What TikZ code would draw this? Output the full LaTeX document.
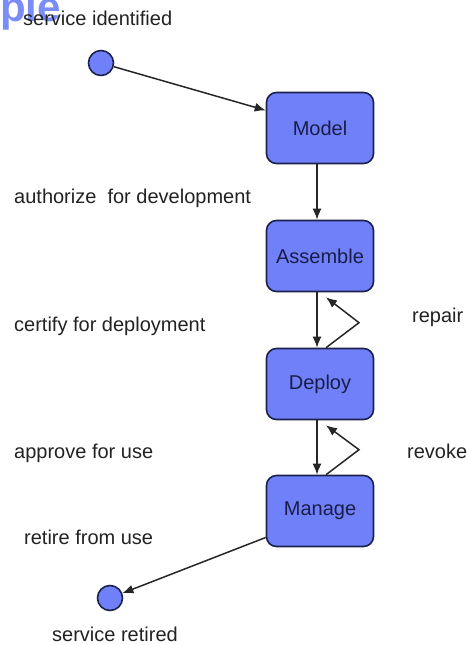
\documentclass[tikz,border=0pt]{standalone}
\usepackage{fontspec}
\setmainfont{Liberation Sans}
\usetikzlibrary{arrows.meta}
\definecolor{stfill}{RGB}{112,128,248}
\definecolor{stline}{RGB}{28,34,78}
\definecolor{stlabel}{RGB}{24,30,72}
\definecolor{txt}{RGB}{34,34,34}
\definecolor{ttl}{RGB}{122,140,248}
\tikzset{
  state/.style={draw=stline, line width=1.6pt, fill=stfill, rounded corners=10pt,
    minimum width=107pt, minimum height=71pt, inner sep=0pt, text=stlabel,
    font=\fontsize{20}{24}\selectfont},
  endpoint/.style={circle, draw=stline, line width=1.6pt, fill=stfill,
    minimum size=25pt, inner sep=0pt},
  lbl/.style={anchor=base west, inner sep=0pt, text=txt,
    font=\fontsize{20}{24}\selectfont},
  flow/.style={draw=black!85, line width=1.5pt,
    -{Latex[length=11pt,width=9pt]}}
}
\begin{document}
\begin{tikzpicture}[x=1pt,y=-1pt]
  \path[use as bounding box] (0,0) rectangle (468,645);
  \clip (0,0) rectangle (468,645);

  % heading fragment at the top edge
  \node[anchor=base west, inner sep=0pt, text=ttl,
        font=\fontsize{42}{46}\selectfont\bfseries] (head) at (0,21) {ple};

  % states
  \node[state] (model)    at (320,128) {Model};
  \node[state] (assemble) at (320,256) {Assemble};
  \node[state] (deploy)   at (320,384) {Deploy};
  \node[state] (manage)   at (320,511) {Manage};

  % initial and final points
  \node[endpoint] (start) at (101,63) {};
  \node[endpoint] (stop)  at (110,598) {};

  % transition labels
  \node[lbl] (l0) at (23,25)  {service identified};
  \node[lbl] (l1) at (14,203) {authorize\ \ for development};
  \node[lbl] (l2) at (14,331) {certify for deployment};
  \node[lbl] (l3) at (14,458) {approve for use};
  \node[lbl] (l4) at (24,544) {retire from use};
  \node[lbl] (l5) at (52,641) {service retired};
  \node[lbl] (l6) at (412,322) {repair};
  \node[lbl] (l7) at (407,458) {revoke};

  % forward transitions
  \draw[flow] (start) -- (model.162);
  \draw[flow] ([xshift=-3pt]model.south)    -- ([xshift=-3pt]assemble.north);
  \draw[flow] ([xshift=-3pt]assemble.south) -- ([xshift=-3pt]deploy.north);
  \draw[flow] ([xshift=-3pt]deploy.south)   -- ([xshift=-3pt]manage.north);
  \draw[flow] (manage.206) -- (stop);

  % backward transitions
  \draw[flow] ([xshift=6pt]deploy.north) -- ++(33,-25)
              -- ([xshift=6pt,yshift=-5pt]assemble.south);
  \draw[flow] ([xshift=6pt]manage.north) -- ++(33,-25)
              -- ([xshift=6pt,yshift=-5pt]deploy.south);
\end{tikzpicture}
\end{document}
